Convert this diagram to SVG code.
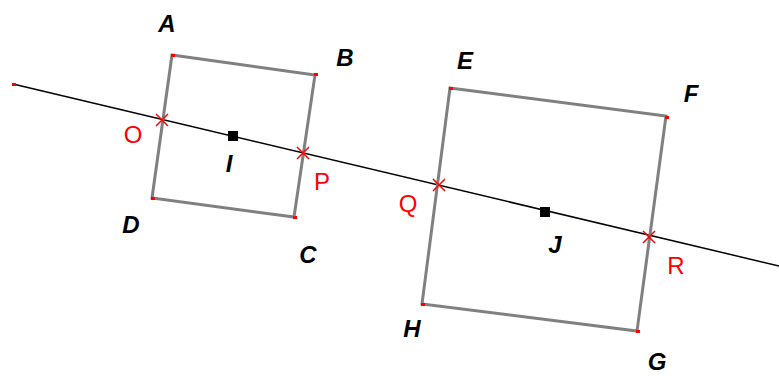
<svg xmlns="http://www.w3.org/2000/svg" width="779" height="376" viewBox="0 0 779 376">
<style>
.sq{fill:none;stroke:#808080;stroke-width:3;stroke-linejoin:miter}
.ln{stroke:#000;stroke-width:1.5;fill:none}
.x{stroke:#ff0000;stroke-width:1.5;fill:none}
.dot{fill:#ff0000}
.lab{font-family:"Liberation Sans",Arial,sans-serif;font-size:24px;font-weight:bold;font-style:italic;fill:#000;text-anchor:middle}
.rl{font-family:"Liberation Sans",Arial,sans-serif;font-size:24px;fill:#ff0000;text-anchor:middle}
</style>
<rect width="779" height="376" fill="#fff"/>
<g id="connectors">
<line class="ln" x1="13" y1="84" x2="779" y2="266"/>
</g>
<g id="squareABCD">
<polygon class="sq" points="172,55 315,75 294,217 152,198"/>
<rect class="dot" x="171" y="54" width="4" height="3"/>
<rect class="dot" x="314" y="73" width="4" height="3"/>
<rect class="dot" x="293" y="216" width="4" height="3"/>
<rect class="dot" x="151" y="197" width="4" height="3"/>
<text class="lab" x="167" y="32">A</text>
<text class="lab" x="345" y="66">B</text>
<text class="lab" x="308" y="263">C</text>
<text class="lab" x="131" y="233">D</text>
</g>
<g id="squareEFGH">
<polygon class="sq" points="450,88 666,116 637,331 422,304"/>
<rect class="dot" x="449" y="87" width="4" height="3"/>
<rect class="dot" x="665" y="116" width="4" height="3"/>
<rect class="dot" x="636" y="330" width="4" height="3"/>
<rect class="dot" x="421" y="303" width="4" height="3"/>
<text class="lab" x="465" y="69">E</text>
<text class="lab" x="691" y="102">F</text>
<text class="lab" x="657" y="370">G</text>
<text class="lab" x="412" y="337">H</text>
</g>
<g id="lineStart"><rect class="dot" x="12" y="83" width="4" height="3"/></g>
<g id="I"><rect x="228" y="131" width="10" height="10" fill="#000"/><text class="lab" x="229" y="172">I</text></g>
<g id="J"><rect x="540" y="207" width="10" height="10" fill="#000"/><text class="lab" x="555" y="253">J</text></g>
<g id="O"><path class="x" d="M156,114 L168,126 M168,114 L156,126"/><text class="rl" x="133" y="143">O</text></g>
<g id="P"><path class="x" d="M297,147 L309,159 M309,147 L297,159"/><text class="rl" x="322" y="190">P</text></g>
<g id="Q"><path class="x" d="M433,179 L445,191 M445,179 L433,191"/><text class="rl" x="408" y="212">Q</text></g>
<g id="R"><path class="x" d="M643,231 L655,243 M655,231 L643,243"/><text class="rl" x="676" y="274">R</text></g>
</svg>
